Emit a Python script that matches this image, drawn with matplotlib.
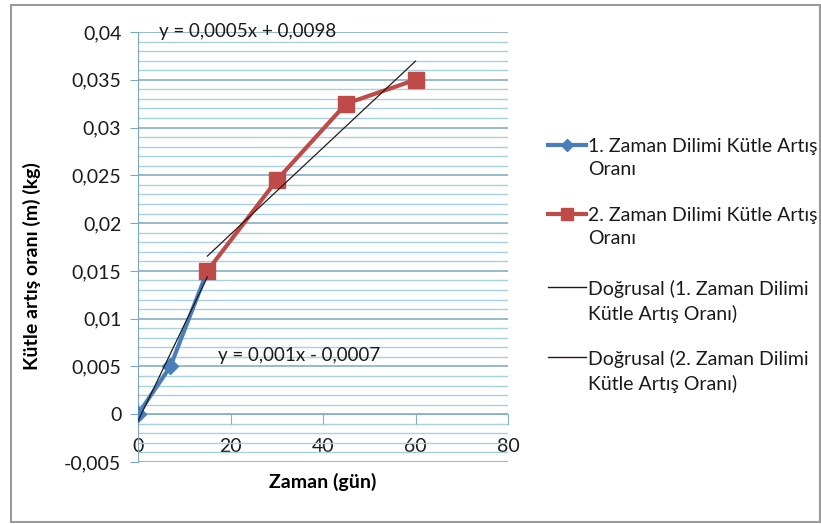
import numpy as np
import matplotlib.pyplot as plt
from matplotlib.patches import Rectangle
from matplotlib.lines import Line2D
from matplotlib.ticker import MultipleLocator

# kütle artış verileri
gun_1 = [0, 7, 15]
kutle_1 = [0.0, 0.005, 0.015]
gun_2 = [15, 30, 45, 60]
kutle_2 = [0.015, 0.0245, 0.0325, 0.035]

y_ticks = [-0.005, 0, 0.005, 0.01, 0.015, 0.02, 0.025, 0.03, 0.035, 0.04]
y_labels = ['-0,005', '0', '0,005', '0,01', '0,015', '0,02', '0,025', '0,03', '0,035', '0,04']
x_ticks = [0, 20, 40, 60, 80]

etiket_1 = '1. Zaman Dilimi Kütle Artış\nOranı'
etiket_2 = '2. Zaman Dilimi Kütle Artış\nOranı'
etiket_t1 = 'Doğrusal (1. Zaman Dilimi\nKütle Artış Oranı)'
etiket_t2 = 'Doğrusal (2. Zaman Dilimi\nKütle Artış Oranı)'
denklem_1 = 'y = 0,001x - 0,0007'
denklem_2 = 'y = 0,0005x + 0,0098'

MAVI = '#4a7ebb'
KIRMIZI = '#be4b48'
YAZI = '#1a1a1a'
FS = 14

plt.rcParams['font.family'] = ['Lato', 'DejaVu Sans']

W, H = 821, 524
fig = plt.figure(figsize=(W / 100, H / 100), dpi=100)
ax = fig.add_axes([138 / W, 1 - 462 / H, 370 / W, 430 / H])

# dış çerçeve
fig.patches.append(Rectangle((11 / W, 1 - 522 / H), 809 / W, 517 / H,
                             transform=fig.transFigure, fill=False,
                             edgecolor='#9a9a9a', linewidth=1.5))

# doğrusal eğilim çizgileri
k1 = np.polyfit(gun_1, kutle_1, 1)
k2 = np.polyfit(gun_2, kutle_2, 1)
x1 = np.array([gun_1[0], gun_1[-1]])
x2 = np.array([gun_2[0], gun_2[-1]])

ax.plot(gun_1, kutle_1, color=MAVI, linewidth=3, marker='D', markersize=8, zorder=3)
ax.plot(gun_2, kutle_2, color=KIRMIZI, linewidth=3, marker='s', markersize=11, zorder=3)
ax.plot(x1, np.polyval(k1, x1), color=YAZI, linewidth=0.9, zorder=4)
ax.plot(x2, np.polyval(k2, x2), color='#2a1a14', linewidth=0.9, zorder=4)

ax.text(4.6, 0.0401, denklem_2, fontsize=13.5, va='center', ha='left', color=YAZI)
ax.text(17.2, 0.0061, denklem_1, fontsize=13.5, va='center', ha='left', color=YAZI)

ax.set_xlim(0, 80)
ax.set_ylim(-0.005, 0.04)
ax.set_yticks(y_ticks)
ax.set_yticklabels(y_labels)
ax.set_xticks(x_ticks)
ax.yaxis.set_minor_locator(MultipleLocator(0.001))

# ızgara
ax.grid(axis='y', which='major', color='#86aec4', linewidth=1.2, zorder=0)
ax.grid(axis='y', which='minor', color='#a9d0e2', linewidth=1.0, zorder=0)
ax.grid(axis='x', visible=False)
ax.set_axisbelow(True)

for s in ['top', 'right']:
    ax.spines[s].set_visible(False)
ax.spines['left'].set_color('#7aa6c2')
ax.spines['bottom'].set_color('#86aec4')
ax.spines['bottom'].set_position(('data', 0))

ax.tick_params(axis='y', which='major', length=6, color='#7aa6c2', pad=6,
               labelsize=FS, labelcolor=YAZI)
ax.tick_params(axis='y', which='minor', length=0)
ax.tick_params(axis='x', length=8, color='#86aec4', pad=9,
               labelsize=FS, labelcolor=YAZI)

ax.set_xlabel('Zaman (gün)', fontsize=FS, fontweight='bold')
ax.xaxis.set_label_coords(0.5, -0.025)
ax.set_ylabel('Kütle artış oranı (m) (kg)', fontsize=FS, fontweight='bold')
ax.yaxis.set_label_coords(-0.262, 0.455)

# açıklama (lejant) - sembol ilk satır hizasında
lejant = [
    (etiket_1, dict(color=MAVI, linewidth=3, marker='D', markersize=6), 145),
    (etiket_2, dict(color=KIRMIZI, linewidth=3, marker='s', markersize=8), 214),
    (etiket_t1, dict(color=YAZI, linewidth=1), 287),
    (etiket_t2, dict(color='#2a1a14', linewidth=1), 357),
]
for metin, stil, yp in lejant:
    yf = 1 - yp / H
    fig.add_artist(Line2D([548 / W, 567 / W, 586 / W], [yf, yf, yf],
                          transform=fig.transFigure, markevery=[1], **stil))
    fig.text(588 / W, yf + 7 / H, metin, fontsize=FS, color=YAZI, va='top',
             ha='left', linespacing=1.45)

fig.savefig('out.png', dpi=100)
